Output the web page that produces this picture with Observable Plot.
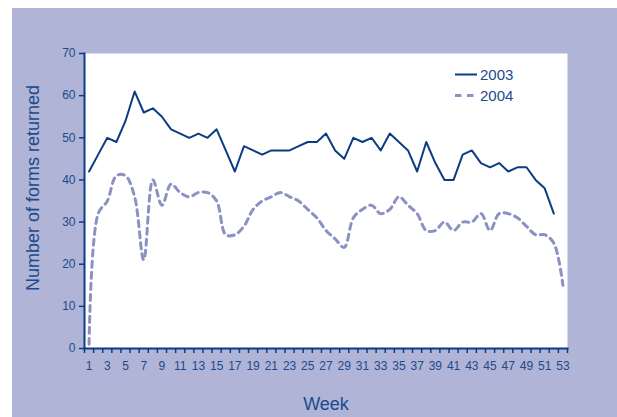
<!DOCTYPE html>
<html><head><meta charset="utf-8">
<script src="https://cdn.jsdelivr.net/npm/d3@7"></script>
<script src="https://cdn.jsdelivr.net/npm/@observablehq/plot@0.6"></script>
<style>
html,body{margin:0;padding:0;background:#fff;overflow:hidden;width:617px;height:417px;font-family:"Liberation Sans",Arial,sans-serif}
#wrap{position:absolute;left:12px;top:8px;width:605px;height:409px;background:#b0b4d6}
#wrap svg{display:block}
#legend{position:absolute;left:455px;top:63.5px;color:#1d4a8c;font-size:15px}
#legend .row{display:flex;align-items:center;height:21px}
#legend .row span{margin-left:3px}
</style></head><body>
<div id="wrap"></div>
<div id="legend"></div>
<script>
// Data
const seriesNames = ["2003", "2004"];
const weeks2003 = d3.range(1, 53);   // weeks 1..52
const weeks2004 = d3.range(1, 54);   // weeks 1..53
const values2003 = [42,46,50,49,54,61,56,57,55,52, 51,50,51,50,52,47,42,48,47,46,
                    47,47,47,48,49,49,51,47,45,50, 49,50,47,51,49,47,42,49,44,40,
                    40,46,47,44,43,44,42,43,43,40, 38,32];
const values2004 = [1,32,35,41,41,36,21,40,34,39, 37,36,37,37,35,27,27,29,33,35,
                    36,37,36,35,33,31,28,26,24,31, 33,34,32,33,36,34,32,28,28,30,
                    28,30,30,32,28,32,32,31,29,27, 27,25,15];
const yTicks = [0,10,20,30,40,50,60,70];
const xTickLabels = d3.range(1, 54, 2);
const xTickBounds = d3.range(0.5, 54, 1);

const c2003 = "#0b3c84";
const c2004 = "#8c91c4";
const textColor = "#1d4a8c";
const axisColor = "#0b3c84";

const d2003 = weeks2003.map((w, i) => ({week: w, value: values2003[i]}));
const d2004 = weeks2004.map((w, i) => ({week: w, value: values2004[i]}));

const chart = Plot.plot({
  width: 605,
  height: 409,
  marginLeft: 72,
  marginRight: 50,
  marginTop: 45,
  marginBottom: 69,
  style: {background: "transparent", fontFamily: "Liberation Sans, Arial, sans-serif", fontSize: "12px", color: textColor},
  x: {type: "linear", domain: [0.5, 53.5]},
  y: {domain: [0, 70]},
  marks: [
    Plot.frame({fill: "white", stroke: null}),
    Plot.axisY({ticks: yTicks, tickSize: 5, tickPadding: 4, label: null, stroke: axisColor, strokeWidth: 1.5, fill: textColor, fontSize: 12}),
    Plot.axisX({ticks: xTickBounds, tickSize: 5, tickFormat: () => "", label: null, stroke: axisColor, strokeWidth: 1.5}),
    Plot.axisX({ticks: xTickLabels, tickSize: 0, tickPadding: 13, tickFormat: d => String(d), label: null, fill: textColor, fontSize: 12}),
    Plot.line(d2004, {x: "week", y: "value", stroke: c2004, strokeWidth: 3, strokeDasharray: "6,5", curve: "catmull-rom"}),
    Plot.line(d2003, {x: "week", y: "value", stroke: c2003, strokeWidth: 2}),
    Plot.frame({anchor: "left", stroke: axisColor, strokeWidth: 2}),
    Plot.frame({anchor: "bottom", stroke: axisColor, strokeWidth: 2}),
    Plot.text(["Week"], {text: d => d, frameAnchor: "bottom", lineAnchor: "middle", textAnchor: "middle", dy: 56, fontSize: 18, fill: textColor}),
    Plot.text(["Number of forms returned"], {text: d => d, frameAnchor: "left", textAnchor: "middle", lineAnchor: "middle", rotate: -90, dx: -51, dy: -13, fontSize: 18, fill: textColor})
  ]
});
document.getElementById("wrap").appendChild(chart);

// Legend
const legend = document.getElementById("legend");
const styles = [{color: c2003, width: 2, dash: null}, {color: c2004, width: 3, dash: "6.5,5.5"}];
seriesNames.forEach((name, i) => {
  const s = styles[i];
  const row = document.createElement("div");
  row.className = "row";
  row.innerHTML = `<svg width="22" height="21"><line x1="0" x2="22" y1="10.5" y2="10.5" stroke="${s.color}" stroke-width="${s.width}" ${s.dash ? `stroke-dasharray="${s.dash}"` : ""}/></svg><span>${name}</span>`;
  legend.appendChild(row);
});
</script>
</body></html>
